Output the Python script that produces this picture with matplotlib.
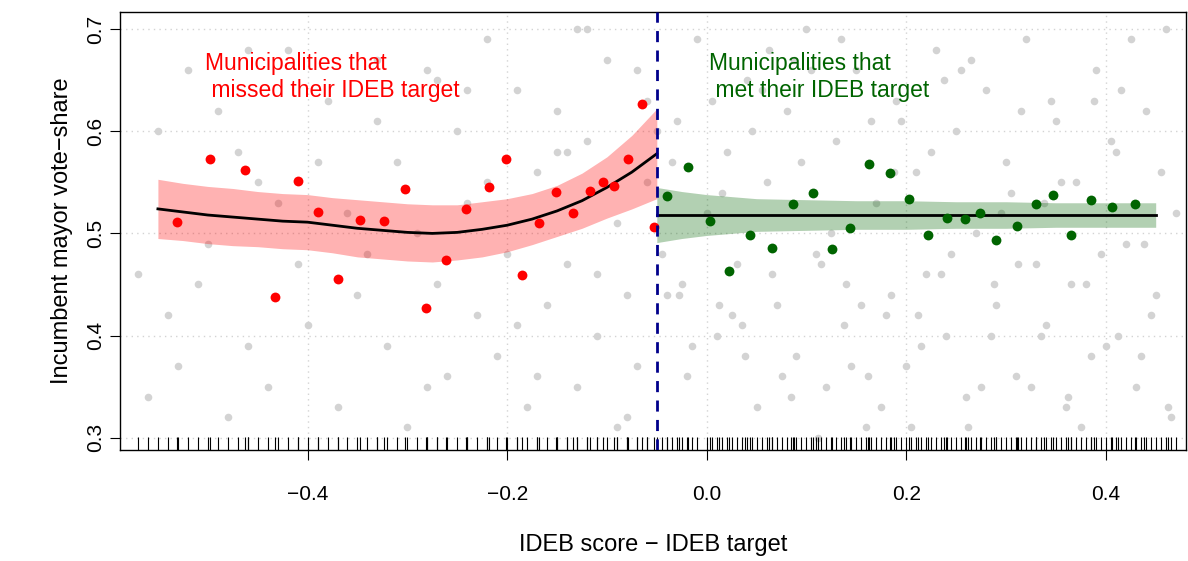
import matplotlib
matplotlib.use("Agg")
import matplotlib.pyplot as plt
import matplotlib.transforms as mtransforms
import numpy as np

plt.rcParams['font.family'] = ['Liberation Sans', 'DejaVu Sans']

# binned means (missed / met target)
red_x = [-0.531,-0.498,-0.463,-0.433,-0.410,-0.390,-0.370,-0.347,-0.323,-0.302,-0.281,-0.261,-0.241,-0.218,-0.201,-0.185,-0.168,-0.151,-0.134,-0.117,-0.104,-0.093,-0.079,-0.065,-0.053]
red_y = [0.511,0.573,0.562,0.438,0.551,0.521,0.455,0.513,0.512,0.543,0.427,0.474,0.524,0.545,0.573,0.459,0.510,0.541,0.520,0.542,0.550,0.546,0.573,0.627,0.506]
grn_x = [-0.040,-0.019,0.003,0.022,0.043,0.065,0.087,0.107,0.126,0.144,0.163,0.184,0.203,0.222,0.241,0.259,0.274,0.290,0.311,0.330,0.347,0.365,0.385,0.406,0.429]
grn_y = [0.537,0.565,0.512,0.463,0.498,0.486,0.529,0.540,0.485,0.505,0.568,0.559,0.534,0.498,0.515,0.514,0.520,0.494,0.507,0.529,0.538,0.498,0.533,0.526,0.529]

# fitted curves and confidence bands
fit_l_x = [-0.550,-0.525,-0.500,-0.475,-0.450,-0.425,-0.400,-0.375,-0.350,-0.325,-0.300,-0.275,-0.250,-0.225,-0.200,-0.175,-0.150,-0.125,-0.100,-0.075,-0.050]
fit_l_y = [0.524,0.521,0.518,0.516,0.514,0.512,0.511,0.508,0.505,0.503,0.501,0.500,0.501,0.504,0.508,0.514,0.522,0.532,0.545,0.560,0.578]
fit_l_se = [0.029,0.028,0.028,0.028,0.027,0.027,0.027,0.027,0.028,0.028,0.028,0.028,0.027,0.027,0.026,0.025,0.025,0.027,0.030,0.036,0.044]
fit_r_x = [-0.050,-0.025,0.000,0.025,0.050,0.100,0.150,0.200,0.250,0.300,0.350,0.400,0.450]
fit_r_y = [0.518,0.518,0.518,0.518,0.518,0.518,0.518,0.518,0.518,0.518,0.518,0.518,0.518]
fit_r_se = [0.027,0.023,0.020,0.018,0.016,0.015,0.014,0.014,0.013,0.013,0.012,0.012,0.012]

# raw observations (approximate)
gray_x = [-0.57,-0.55,-0.53,-0.52,-0.50,-0.48,-0.47,-0.45,-0.44,-0.42,-0.41,-0.40,-0.38,-0.37,-0.36,-0.35,-0.33,-0.32,-0.31,-0.30,-0.29,-0.28,-0.27,-0.26,-0.25,-0.24,-0.23,-0.22,-0.21,-0.20,
          -0.19,-0.18,-0.17,-0.16,-0.15,-0.14,-0.13,-0.12,-0.11,-0.10,-0.09,-0.08,-0.07,-0.06,-0.56,-0.54,-0.51,-0.49,-0.46,-0.43,-0.39,-0.34,-0.28,-0.24,-0.19,-0.15,-0.11,-0.08,-0.06,-0.13,
          -0.04,-0.03,-0.02,-0.01,0.00,0.01,0.02,0.03,0.04,0.05,0.06,0.07,0.08,0.09,0.10,0.11,0.12,0.13,0.14,0.15,0.16,0.17,0.18,0.19,0.20,0.21,0.22,0.23,0.24,0.25,
          0.26,0.27,0.28,0.29,0.30,0.31,0.32,0.33,0.34,0.35,0.36,0.37,0.38,0.39,0.40,0.41,0.42,0.43,0.44,0.45,0.46,0.47,-0.035,-0.015,0.005,0.025,0.045,0.065,0.085,0.105,
          0.125,0.145,0.165,0.185,0.205,0.225,0.245,0.265,0.285,0.305,0.325,0.345,0.365,0.385,0.405,0.425,0.445,0.465,-0.045,-0.025,0.015,0.035,0.055,0.075,0.095,0.115,0.135,0.155,
          0.175,0.195,0.215,0.235,0.255,0.275,0.295,0.315,0.335,0.355,0.375,0.395,0.415,0.435,0.455,0.012,0.062,0.112,0.162,0.212,0.262,0.312,0.362,0.412,0.462,-0.028,0.038,0.088,0.138,
          0.188,0.238,0.288,0.338,0.388,0.438,-0.33,-0.22,-0.12,-0.07,-0.46,-0.17,-0.27,-0.09,-0.05,-0.14]
gray_y = [0.46,0.60,0.37,0.66,0.49,0.32,0.58,0.55,0.35,0.68,0.47,0.41,0.63,0.33,0.52,0.44,0.61,0.39,0.57,0.31,0.50,0.66,0.45,0.36,0.60,0.53,0.42,0.69,0.38,0.48,
          0.64,0.33,0.56,0.43,0.62,0.47,0.35,0.59,0.40,0.67,0.51,0.44,0.37,0.63,0.34,0.42,0.45,0.62,0.39,0.53,0.57,0.48,0.35,0.64,0.41,0.58,0.46,0.32,0.55,0.70,
          0.44,0.61,0.36,0.69,0.52,0.40,0.58,0.47,0.65,0.33,0.55,0.43,0.62,0.38,0.70,0.48,0.35,0.59,0.45,0.66,0.31,0.53,0.42,0.63,0.37,0.56,0.46,0.68,0.40,0.60,
          0.34,0.50,0.64,0.43,0.57,0.36,0.69,0.47,0.41,0.61,0.33,0.55,0.45,0.66,0.39,0.58,0.49,0.35,0.62,0.44,0.70,0.52,0.57,0.39,0.63,0.42,0.60,0.46,0.34,0.66,
          0.50,0.37,0.61,0.44,0.31,0.58,0.48,0.67,0.40,0.54,0.35,0.63,0.45,0.38,0.59,0.69,0.42,0.32,0.48,0.45,0.54,0.41,0.64,0.36,0.57,0.47,0.69,0.43,0.33,0.61,
          0.39,0.46,0.66,0.35,0.52,0.62,0.40,0.55,0.31,0.48,0.64,0.38,0.56,0.43,0.68,0.30,0.36,0.42,0.31,0.47,0.34,0.40,0.33,0.44,0.38,0.67,0.41,0.56,0.65,
          0.45,0.53,0.63,0.49,0.67,0.55,0.70,0.66,0.68,0.36,0.65,0.31,0.60,0.58]

fig = plt.figure(figsize=(11.88, 5.61), dpi=100)
ax = fig.add_axes([0.101, 0.198, 0.897, 0.781])
ax.set_xlim(-0.588, 0.48)
ax.set_ylim(0.288, 0.717)

for v in [-0.4, -0.2, 0.0, 0.2, 0.4]:
    ax.axvline(v, color="lightgray", ls=(0, (1, 3)), lw=1, zorder=0)
for v in [0.3, 0.4, 0.5, 0.6, 0.7]:
    ax.axhline(v, color="lightgray", ls=(0, (1, 3)), lw=1, zorder=0)

ax.scatter(gray_x, gray_y, s=30, color="lightgray", lw=0, zorder=1)

lx = np.array(fit_l_x); ly = np.array(fit_l_y); ls_ = np.array(fit_l_se)
rx = np.array(fit_r_x); ry = np.array(fit_r_y); rs = np.array(fit_r_se)
ax.fill_between(lx, ly - ls_, ly + ls_, color="#ff0000", alpha=0.3, lw=0, zorder=2)
ax.fill_between(rx, ry - rs, ry + rs, color="#006400", alpha=0.3, lw=0, zorder=2)
ax.plot(lx, ly, color="black", lw=2, zorder=4)
ax.plot(rx, ry, color="black", lw=2, zorder=4)

ax.scatter(red_x, red_y, s=50, color="red", lw=0, zorder=5)
ax.scatter(grn_x, grn_y, s=50, color="#006400", lw=0, zorder=5)

ax.axvline(-0.05, color="#00008B", ls=(0, (4, 3)), lw=2, zorder=6)

# rug (inside bottom of axes)
rug_x = gray_x + red_x + grn_x
trans = mtransforms.blended_transform_factory(ax.transData, ax.transAxes)
ax.vlines(rug_x, 0, 0.03, transform=trans, color="black", lw=0.8, zorder=3)

ax.text(-0.503, 0.653, "Municipalities that\n missed their IDEB target", color="red",
        fontsize=16.5, ha="left", va="center", linespacing=1.25)
ax.text(0.002, 0.653, "Municipalities that\n met their IDEB target", color="#006400",
        fontsize=16.5, ha="left", va="center", linespacing=1.25)

ax.set_xticks([-0.4, -0.2, 0.0, 0.2, 0.4])
ax.set_xticklabels(["\u22120.4", "\u22120.2", "0.0", "0.2", "0.4"])
ax.set_yticks([0.3, 0.4, 0.5, 0.6, 0.7])
ax.set_yticklabels(["0.3", "0.4", "0.5", "0.6", "0.7"], rotation=90, va="center")
ax.tick_params(labelsize=15, length=7)
ax.tick_params(axis="x", pad=18)
ax.set_xlabel("IDEB score \u2212 IDEB target", fontsize=17, labelpad=22)
ax.set_ylabel("Incumbent mayor vote\u2212share", fontsize=17, labelpad=10)
for s in ax.spines.values():
    s.set_linewidth(1)

fig.savefig("out.png", dpi=100)
